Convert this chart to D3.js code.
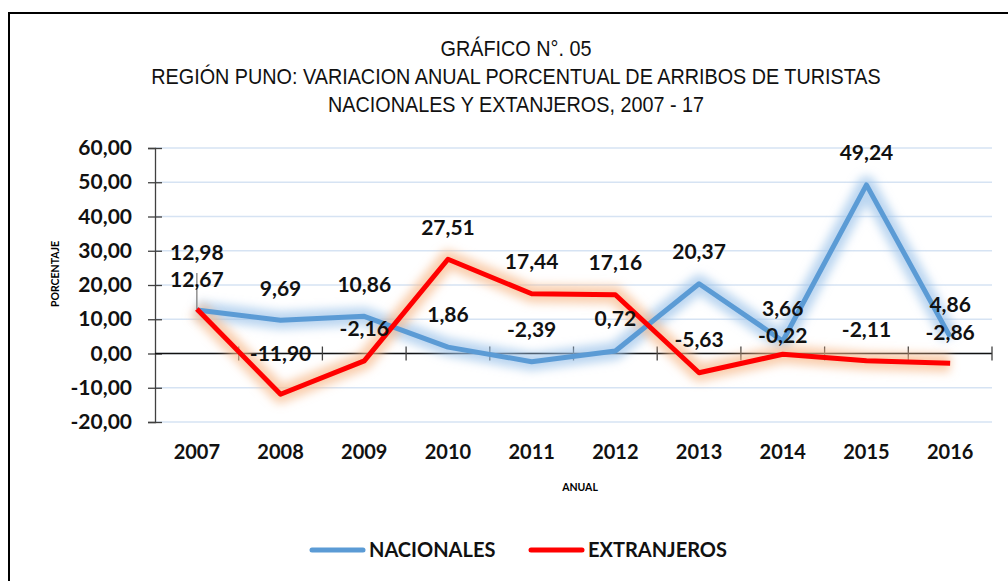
<!DOCTYPE html>
<html>
<head>
<meta charset="utf-8">
<script src="https://cdnjs.cloudflare.com/ajax/libs/d3/7.8.5/d3.min.js"></script>
<style>
  body { margin: 0; background: #fff; }
  svg { display: block; }
</style>
</head>
<body>
<script>
// data
var years = ['2007','2008','2009','2010','2011','2012','2013','2014','2015','2016']
var nacionales = [12.67, 9.69, 10.86, 1.86, -2.39, 0.72, 20.37, 3.66, 49.24, 4.86]
var extranjeros = [12.98, -11.90, -2.16, 27.51, 17.44, 17.16, -5.63, -0.22, -2.11, -2.86]
var yTicks = [-20, -10, 0, 10, 20, 30, 40, 50, 60]
var titleLines = ['GRÁFICO N°. 05',
  'REGIÓN PUNO: VARIACION ANUAL PORCENTUAL DE ARRIBOS DE TURISTAS',
  'NACIONALES Y EXTANJEROS, 2007 - 17']
var seriesNames = ['NACIONALES', 'EXTRANJEROS']

// label lift above the point (px), a few were moved by hand in the original
var liftNac = [30, 32, 32, 32, 32, 32, 32, 32, 32, 32]
var liftExt = [56, 41, 32, 32, 32, 32, 33, 19, 31, 31]

var svgWidth = 1008
var svgHeight = 581
const plot = {left: 155, right: 992, top: 148, bottom: 422}

var blue = '#5b9bd5'
var red = '#ff0000'
var labelFont = 'Lato, "Open Sans", sans-serif'

var es = d3.formatLocale({decimal: ',', thousands: '.', grouping: [3], currency: ['', ''], minus: '-'})
var fmt = es.format('.2f')

var svg = d3.select('body')
  .append('svg')
    .attr('width', svgWidth)
    .attr('height', svgHeight)

// frame
svg.append('rect')
  .attr('x', 9).attr('y', 13)
  .attr('width', 1200).attr('height', 800)
  .attr('fill', 'none')
  .attr('stroke', '#000')
  .attr('stroke-width', 2)

// title (narrow face is not installed, so squeeze it)
svg.append('g')
  .attr('transform', 'translate(516,0) scale(0.9,1)')
  .selectAll('text')
  .data(titleLines)
  .enter().append('text')
    .attr('x', 0)
    .attr('y', function(d, i) { return 56 + i * 28 })
    .attr('text-anchor', 'middle')
    .style('font-family', '"Liberation Sans Narrow", "Arial Narrow", "Liberation Sans", sans-serif')
    .style('font-size', '22px')
    .style('fill', '#111')
    .text(function(d) { return d })

// scales
var xScale = d3.scaleBand()
  .domain(years)
  .range([plot.left, plot.right])

var yScale = d3.scaleLinear()
  .domain([-20, 60])
  .range([plot.bottom, plot.top])

var cx = function(i) { return xScale(years[i]) + xScale.bandwidth() / 2 }

// glow filter
var defs = svg.append('defs')
defs.append('filter')
  .attr('id', 'glow')
  .attr('x', '-20%').attr('y', '-50%')
  .attr('width', '140%').attr('height', '200%')
  .append('feGaussianBlur')
  .attr('stdDeviation', 5)

// gridlines
svg.append('g')
  .selectAll('line')
  .data(yTicks)
  .enter().append('line')
    .attr('x1', plot.left).attr('x2', plot.right)
    .attr('y1', function(d) { return yScale(d) })
    .attr('y2', function(d) { return yScale(d) })
    .attr('stroke', '#d6e3f3')
    .attr('stroke-width', 1.5)

// y axis
var yAxis = d3.axisLeft(yScale)
  .tickValues(yTicks)
  .tickFormat(fmt)
  .tickSize(7)
  .tickPadding(16)

var yG = svg.append('g')
  .attr('transform', 'translate(' + plot.left + ',0)')
  .call(yAxis)
yG.select('.domain').attr('stroke', '#404040').attr('stroke-width', 1.3)
yG.selectAll('.tick line').attr('x1', 7).attr('stroke', '#404040').attr('stroke-width', 1.3)
yG.selectAll('.tick text')
  .style('font-family', labelFont)
  .style('font-weight', 700)
  .style('font-size', '21px')
  .style('fill', '#111')

// zero line with category ticks
var zeroY = yScale(0)
var xG = svg.append('g')
xG.append('line')
  .attr('x1', plot.left).attr('x2', plot.right)
  .attr('y1', zeroY).attr('y2', zeroY)
  .attr('stroke', '#111').attr('stroke-width', 1.3)
xG.selectAll('.xt')
  .data(years.slice(1).concat(['end']))
  .enter().append('line')
    .attr('class', 'xt')
    .attr('x1', function(d) { return d === 'end' ? plot.right : xScale(d) })
    .attr('x2', function(d) { return d === 'end' ? plot.right : xScale(d) })
    .attr('y1', zeroY - 7).attr('y2', zeroY + 7)
    .attr('stroke', '#404040').attr('stroke-width', 1.3)

// category labels sit below the plot
var xAxis = d3.axisBottom(xScale).tickSize(0).tickPadding(23)
var xl = svg.append('g')
  .attr('transform', 'translate(0,' + plot.bottom + ')')
  .call(xAxis)
xl.select('.domain').remove()
xl.selectAll('.tick text')
  .style('font-family', labelFont)
  .style('font-weight', 700)
  .style('font-size', '20px')
  .style('fill', '#111')

// axis titles
svg.append('text')
  .attr('transform', 'translate(59,274) rotate(-90)')
  .attr('text-anchor', 'middle')
  .style('font-family', labelFont)
  .style('font-weight', 700)
  .style('font-size', '10.5px')
  .text('PORCENTAJE')

svg.append('text')
  .attr('x', 580).attr('y', 491)
  .attr('text-anchor', 'middle')
  .style('font-family', labelFont)
  .style('font-weight', 700)
  .style('font-size', '10.5px')
  .text('ANUAL')

// lines
var line = d3.line()
  .x(function(d, i) { return cx(i) })
  .y(function(d) { return yScale(d) })

var series = [
  {name: seriesNames[0], values: nacionales, color: blue, glow: '#9cc3ea', lift: liftNac},
  {name: seriesNames[1], values: extranjeros, color: red, glow: '#f7b98a', lift: liftExt}
]

series.forEach(function(s) {
  svg.append('path')
    .datum(s.values)
    .attr('d', line)
    .attr('fill', 'none')
    .attr('stroke', s.glow)
    .attr('stroke-width', 18)
    .attr('stroke-opacity', 0.7)
    .attr('stroke-linejoin', 'round')
    .attr('filter', 'url(#glow)')
})

// leader line for the 2007 label
svg.append('line')
  .attr('x1', cx(0)).attr('x2', cx(0))
  .attr('y1', 273).attr('y2', yScale(extranjeros[0]))
  .attr('stroke', '#7f7f7f').attr('stroke-width', 1.3)

series.forEach(function(s) {
  svg.append('path')
    .datum(s.values)
    .attr('d', line)
    .attr('fill', 'none')
    .attr('stroke', s.color)
    .attr('stroke-width', 5)
    .attr('stroke-linejoin', 'round')
})

// data labels
series.forEach(function(s) {
  svg.append('g').selectAll('text')
    .data(s.values)
    .enter().append('text')
      .attr('x', function(d, i) { return cx(i) })
      .attr('y', function(d, i) { return yScale(d) - s.lift[i] })
      .attr('dy', '0.35em')
      .attr('text-anchor', 'middle')
      .style('font-family', labelFont)
      .style('font-weight', 700)
      .style('font-size', '21px')
      .style('fill', '#111')
      .text(function(d) { return fmt(d) })
})

// legend
var legendX = [310, 529]
var legend = svg.selectAll('.legend')
  .data(series)
  .enter().append('g')
    .attr('class', 'legend')
    .attr('transform', function(d, i) { return 'translate(' + legendX[i] + ',550)' })

legend.append('line')
  .attr('x1', 2).attr('x2', 53)
  .attr('stroke', function(d) { return d.color })
  .attr('stroke-width', 5)
  .attr('stroke-linecap', 'round')

legend.append('text')
  .attr('x', 59).attr('y', 7)
  .style('font-family', labelFont)
  .style('font-weight', 700)
  .style('font-size', '20px')
  .style('fill', '#111')
  .text(function(d) { return d.name })
</script>
</body>
</html>
